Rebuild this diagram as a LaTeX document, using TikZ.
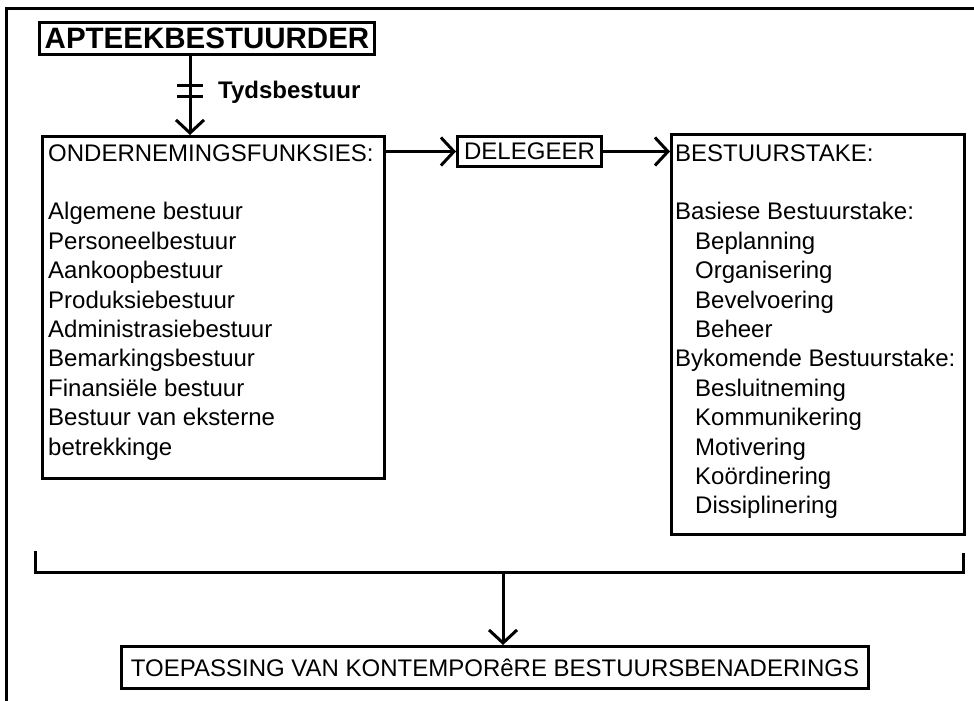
\documentclass[tikz,border=0pt]{standalone}
\usepackage{fontspec}
\setmainfont{Liberation Sans}
\usetikzlibrary{arrows.meta}
\begin{document}
\begin{tikzpicture}[x=1pt,y=-1pt,
  lw/.style={line width=3pt},
  boxnode/.style={draw,lw,inner sep=0pt,anchor=north west},
  body/.style={font=\fontsize{24}{29.4}\selectfont},
  listtext/.style={body,anchor=base west,align=left,inner sep=0pt},
  arr/.style={lw,-{Straight Barb[length=13pt,width=28pt]}},
]
\useasboundingbox (0,0) rectangle (974,701);
% outer frame (top and left only)
\draw[lw] (6.5,701) -- (6.5,8.5) -- (974,8.5);

% title
\node[boxnode,minimum width=335pt,minimum height=32.5pt,
      font=\fontsize{29.5}{34}\selectfont\bfseries] (title) at (38,21) {APTEEKBESTUURDER};
\node[anchor=base west,inner sep=0pt,font=\fontsize{24}{28}\selectfont\bfseries] (tyd) at (218,98) {Tydsbestuur};

% left box (base anchor = baseline of last line)
\node[boxnode,minimum width=342pt,minimum height=342pt] (ond) at (41,135) {};
\node[listtext] (ondtext) at (48,455) {ONDERNEMINGSFUNKSIES:\\ \mbox{}\\
Algemene bestuur\\
Personeelbestuur\\
Aankoopbestuur\\
Produksiebestuur\\
Administrasiebestuur\\
Bemarkingsbestuur\\
Finansiële bestuur\\
Bestuur van eksterne\\
betrekkinge};

% delegeer
\node[boxnode,minimum width=144pt,minimum height=30pt,body] (del) at (456,135) {DELEGEER};

% right box
\node[boxnode,minimum width=293pt,minimum height=400pt] (bst) at (670,133) {};
\node[listtext] (bsttext) at (675,513.8) {BESTUURSTAKE:\\ \mbox{}\\
Basiese Bestuurstake:\\
\hspace*{20pt}Beplanning\\
\hspace*{20pt}Organisering\\
\hspace*{20pt}Bevelvoering\\
\hspace*{20pt}Beheer\\
Bykomende Bestuurstake:\\
\hspace*{20pt}Besluitneming\\
\hspace*{20pt}Kommunikering\\
\hspace*{20pt}Motivering\\
\hspace*{20pt}Koördinering\\
\hspace*{20pt}Dissiplinering};

% final box
\node[boxnode,minimum width=747pt,minimum height=42pt,body] (fin) at (120,645) {TOEPASSING VAN KONTEMPORêRE BESTUURSBENADERINGS};

% connectors
\coordinate (tx) at (190,0);
\draw[arr] (tx |- title.south) -- (tx |- ond.north);
\draw[lw] (177,85) -- (203,85);
\draw[lw] (177,96) -- (203,96);

\draw[arr] (ond.east |- del.west) -- (del.west);
\draw[arr] (del.east) -- (bst.west |- del.east);

\coordinate (bl) at (35,551);
\coordinate (br) at (963,553);
\coordinate (bm) at (503,572);
\draw[lw] (bl) -- (bl |- bm) -- (br |- bm) -- (br);
\draw[arr] (bm) -- (bm |- fin.north);
\end{tikzpicture}
\end{document}
